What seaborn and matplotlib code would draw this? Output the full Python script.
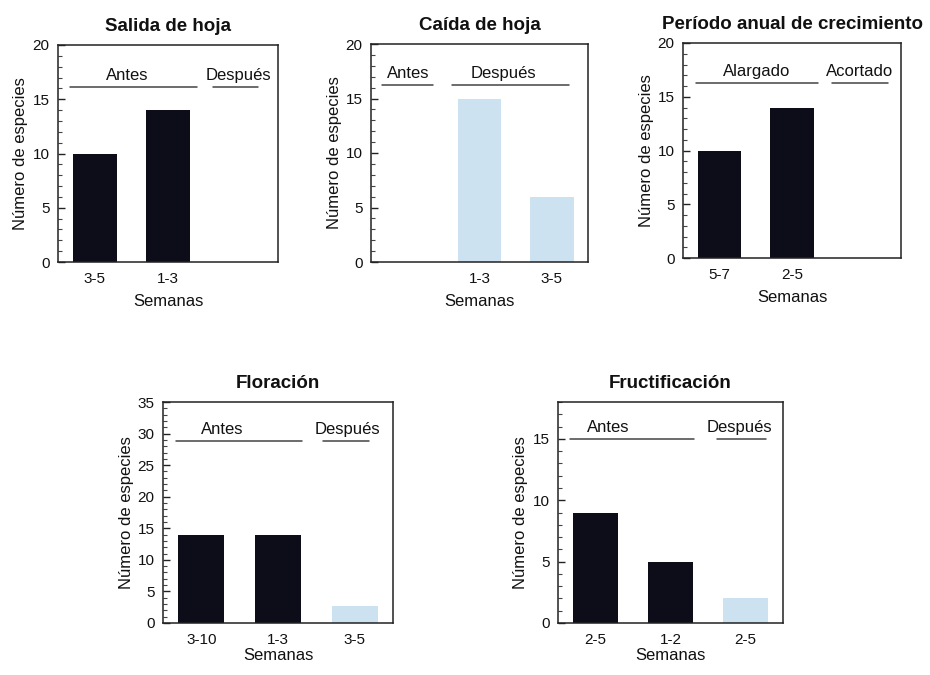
import matplotlib
matplotlib.use("Agg")
import matplotlib.pyplot as plt
from matplotlib.ticker import MultipleLocator, FixedLocator
import seaborn as sns
import pandas as pd

# datos de cada panel (huecos vacios = "")
semanas_salida = ["3-5", "1-3", ""]
n_salida = [10, 14, 0]
fase_salida = ["antes", "antes", "despues"]

semanas_caida = ["", "1-3", "3-5"]
n_caida = [0, 15, 6]
fase_caida = ["antes", "despues", "despues"]

semanas_periodo = ["5-7", "2-5", ""]
n_periodo = [10, 14, 0]
fase_periodo = ["antes", "antes", "despues"]

semanas_floracion = ["3-10", "1-3", "3-5"]
n_floracion = [14, 14, 2.7]
fase_floracion = ["antes", "antes", "despues"]

semanas_fruct = ["2-5", "1-2", "2-5"]
n_fruct = [9, 5, 2]
fase_fruct = ["antes", "antes", "despues"]

grupos_ad = ["Antes", "Después"]
grupos_periodo = ["Alargado", "Acortado"]

colores = {"antes": "#0b0b1c", "despues": "#c6e3f6"}

sns.set_theme(style="white")
plt.rcParams["font.family"] = ["Liberation Sans", "DejaVu Sans"]
plt.rcParams["text.color"] = "#111"
plt.rcParams["axes.labelcolor"] = "#111"
plt.rcParams["xtick.color"] = "#111"
plt.rcParams["ytick.color"] = "#111"

fig = plt.figure(figsize=(9.3, 6.75), dpi=100)
W, H = 930, 675


def ejes(left, top, right, bottom):
    return fig.add_axes([left / W, 1 - bottom / H, (right - left) / W, (bottom - top) / H])


paneles = [
    # titulo, semanas, n, fase, grupos, caja px, ymax, linea y, lineas x, textos x, pad xlabel
    ("Salida de hoja", semanas_salida, n_salida, fase_salida, grupos_ad,
     (58, 45, 278, 262), 20, 16.1, [(-0.34, 1.4), (1.61, 2.23)], [0.45, 1.96], 6),
    ("Caída de hoja", semanas_caida, n_caida, fase_caida, grupos_ad,
     (371, 44, 588, 262), 20, 16.2, [(-0.35, 0.36), (0.62, 2.24)], [0.01, 1.33], 6),
    ("Período anual de crecimiento", semanas_periodo, n_periodo, fase_periodo, grupos_periodo,
     (683, 43, 901, 258), 20, 16.3, [(-0.32, 1.36), (1.55, 2.32)], [0.52, 1.93], 6),
    ("Floración", semanas_floracion, n_floracion, fase_floracion, grupos_ad,
     (163, 402, 393, 623), 35, 28.8, [(-0.33, 1.31), (1.59, 2.19)], [0.27, 1.91], 1),
    ("Fructificación", semanas_fruct, n_fruct, fase_fruct, grupos_ad,
     (558, 402, 783, 623), 18, 15.0, [(-0.34, 1.31), (1.62, 2.27)], [0.17, 1.92], 1),
]

for titulo, semanas, n, fase, grupos, caja, ymax, ly, lxs, txs, pad in paneles:
    ax = ejes(*caja)
    df = pd.DataFrame({"hueco": [0, 1, 2], "n": n, "fase": fase})
    sns.barplot(data=df, x="hueco", y="n", hue="fase", palette=colores,
                dodge=False, width=0.6, linewidth=0, legend=False, ax=ax)
    ax.set_xlim(-0.5, 2.5)
    ax.set_ylim(0, ymax)
    ax.set_xticks([0, 1, 2])
    ax.set_xticklabels(semanas, fontsize=11)
    ax.xaxis.set_minor_locator(FixedLocator([0.5, 1.5]))
    ax.tick_params(axis="x", which="major", length=0, pad=7)
    ax.tick_params(axis="x", which="minor", direction="in", length=5, width=1, color="#222")
    ax.yaxis.set_major_locator(MultipleLocator(5))
    ax.yaxis.set_minor_locator(MultipleLocator(1))
    ax.tick_params(axis="y", which="major", direction="in", length=5, width=1,
                   labelsize=11, color="#222", pad=6, left=True)
    ax.tick_params(axis="y", which="minor", direction="in", length=3, width=0.8,
                   color="#444", left=True)
    ax.set_xlabel("Semanas", fontsize=12, labelpad=pad)
    ax.set_ylabel("Número de especies", fontsize=12, labelpad=3)
    ax.set_title(titulo, fontsize=13.5, fontweight="bold", pad=10)
    for s in ax.spines.values():
        s.set_visible(True)
        s.set_color("#222")
        s.set_linewidth(1.1)
    for g, (x0, x1), tx in zip(grupos, lxs, txs):
        ax.plot([x0, x1], [ly, ly], color="#444", lw=1.1)
        ax.annotate(g, (tx, ly), xytext=(0, 3), textcoords="offset points",
                    ha="center", va="bottom", fontsize=12)

fig.savefig("out.png", dpi=100, facecolor="white")
